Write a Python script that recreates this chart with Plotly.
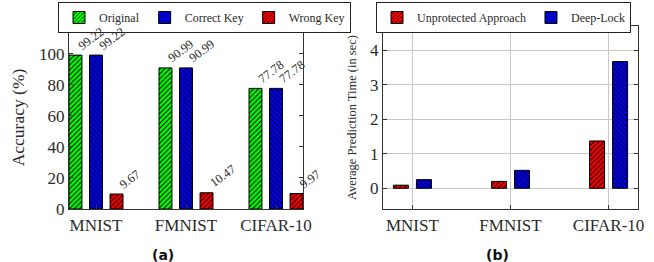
import plotly.graph_objects as go

categories = ["MNIST", "FMNIST", "CIFAR-10"]
acc_original = [99.22, 90.99, 77.78]
acc_correct = [99.22, 90.99, 77.78]
acc_wrong = [9.67, 10.47, 9.97]
time_unprotected = [0.09, 0.20, 1.37]
time_deeplock = [0.25, 0.52, 3.67]
acc_ticks = [0, 20, 40, 60, 80, 100]
time_ticks = [0, 1, 2, 3, 4]

SERIF = "Liberation Serif"
GREEN = "#00ff00"
BLUE = "#0000ff"
RED = "#ff0000"
TXT = "#2a2a2a"

fig = go.Figure()


def bar(name, x, y, color, shape, offset, width, xaxis, yaxis, legend):
    return go.Bar(
        name=name, x=x, y=y, xaxis=xaxis, yaxis=yaxis, legend=legend,
        offset=offset, width=width,
        marker=dict(color=color, line=dict(color="black", width=1),
                    pattern=dict(shape=shape, fgcolor="black", bgcolor=color,
                                 size=3.5, solidity=0.3, fillmode="replace")),
        hoverinfo="skip",
    )


# Left: accuracy
w1 = 0.144
fig.add_trace(bar("Original", categories, acc_original, GREEN, "/", -0.3, w1, "x", "y", "legend"))
fig.add_trace(bar("Correct Key", categories, acc_correct, BLUE, "\\", -0.072, w1, "x", "y", "legend"))
fig.add_trace(bar("Wrong Key", categories, acc_wrong, RED, "/", 0.156, w1, "x", "y", "legend"))

# Right: time
w2 = 0.153
fig.add_trace(bar("Unprotected Approach", categories, time_unprotected, RED, "/", -0.194, w2, "x2", "y2", "legend2"))
fig.add_trace(bar("Deep-Lock", categories, time_deeplock, BLUE, "\\", 0.041, w2, "x2", "y2", "legend2"))

annotations = []
for vals, shift in [(acc_original, -22), (acc_correct, -1), (acc_wrong, 20)]:
    for c, v in zip(categories, vals):
        annotations.append(dict(
            x=c, y=v, xref="x", yref="y", text=f"{v:.2f}", textangle=-37,
            xanchor="left", yanchor="bottom", xshift=shift, yshift=1, borderpad=0,
            showarrow=False, font=dict(family=SERIF, size=12.5, color=TXT)))

for label, xc in [("(a)", 163), ("(b)", 497)]:
    annotations.append(dict(x=xc / 654, y=7 / 262, xref="paper", yref="paper", text=f"<b>{label}</b>",
                            showarrow=False, xanchor="center", yanchor="middle",
                            font=dict(family="DejaVu Sans", size=14, color="#111")))

axis_common = dict(showline=True, linecolor="#333", linewidth=1.2, mirror="ticks",
                   ticks="inside", ticklen=4, tickcolor="#333",
                   tickfont=dict(family=SERIF, size=17, color=TXT), zeroline=False)

fig.update_layout(
    width=654, height=262, autosize=False,
    margin=dict(l=0, r=0, t=0, b=0, autoexpand=False),
    plot_bgcolor="white", paper_bgcolor="white",
    barmode="overlay",
    xaxis=dict(domain=[69 / 654, 303 / 654], range=[-0.3, 2.3], type="category",
               showgrid=False, **axis_common),
    yaxis=dict(domain=[53 / 262, 236 / 262], range=[0, 118], tickvals=acc_ticks,
               showgrid=False,
               title=dict(text="Accuracy (%)", font=dict(family=SERIF, size=17.5, color=TXT), standoff=9),
               **axis_common),
    xaxis2=dict(domain=[383 / 654, 638 / 654], range=[-0.3, 2.3], type="category",
                showgrid=True, gridcolor="#c8c8c8", anchor="y2", **axis_common),
    yaxis2=dict(domain=[53 / 262, 236 / 262], range=[-0.6, 4.7], tickvals=time_ticks,
                showgrid=True, gridcolor="#c8c8c8", anchor="x2",
                title=dict(text="Average Prediction Time (in sec)", font=dict(family=SERIF, size=12.5, color=TXT), standoff=10),
                **axis_common),
    legend=dict(x=58 / 654, y=1 - 2 / 262, xanchor="left", yanchor="top", orientation="h",
                bordercolor="#222", borderwidth=1, bgcolor="white",
                font=dict(family=SERIF, size=12, color=TXT), itemwidth=30),
    legend2=dict(x=376 / 654, y=1 - 2 / 262, xanchor="left", yanchor="top", orientation="h",
                 bordercolor="#222", borderwidth=1, bgcolor="white",
                 font=dict(family=SERIF, size=12, color=TXT), itemwidth=30),
    annotations=annotations,
    showlegend=True,
)

fig.write_html("out.html",
               config={"responsive": False, "displayModeBar": False},
               post_script="document.body.style.margin='0';document.body.style.overflow='hidden';")
